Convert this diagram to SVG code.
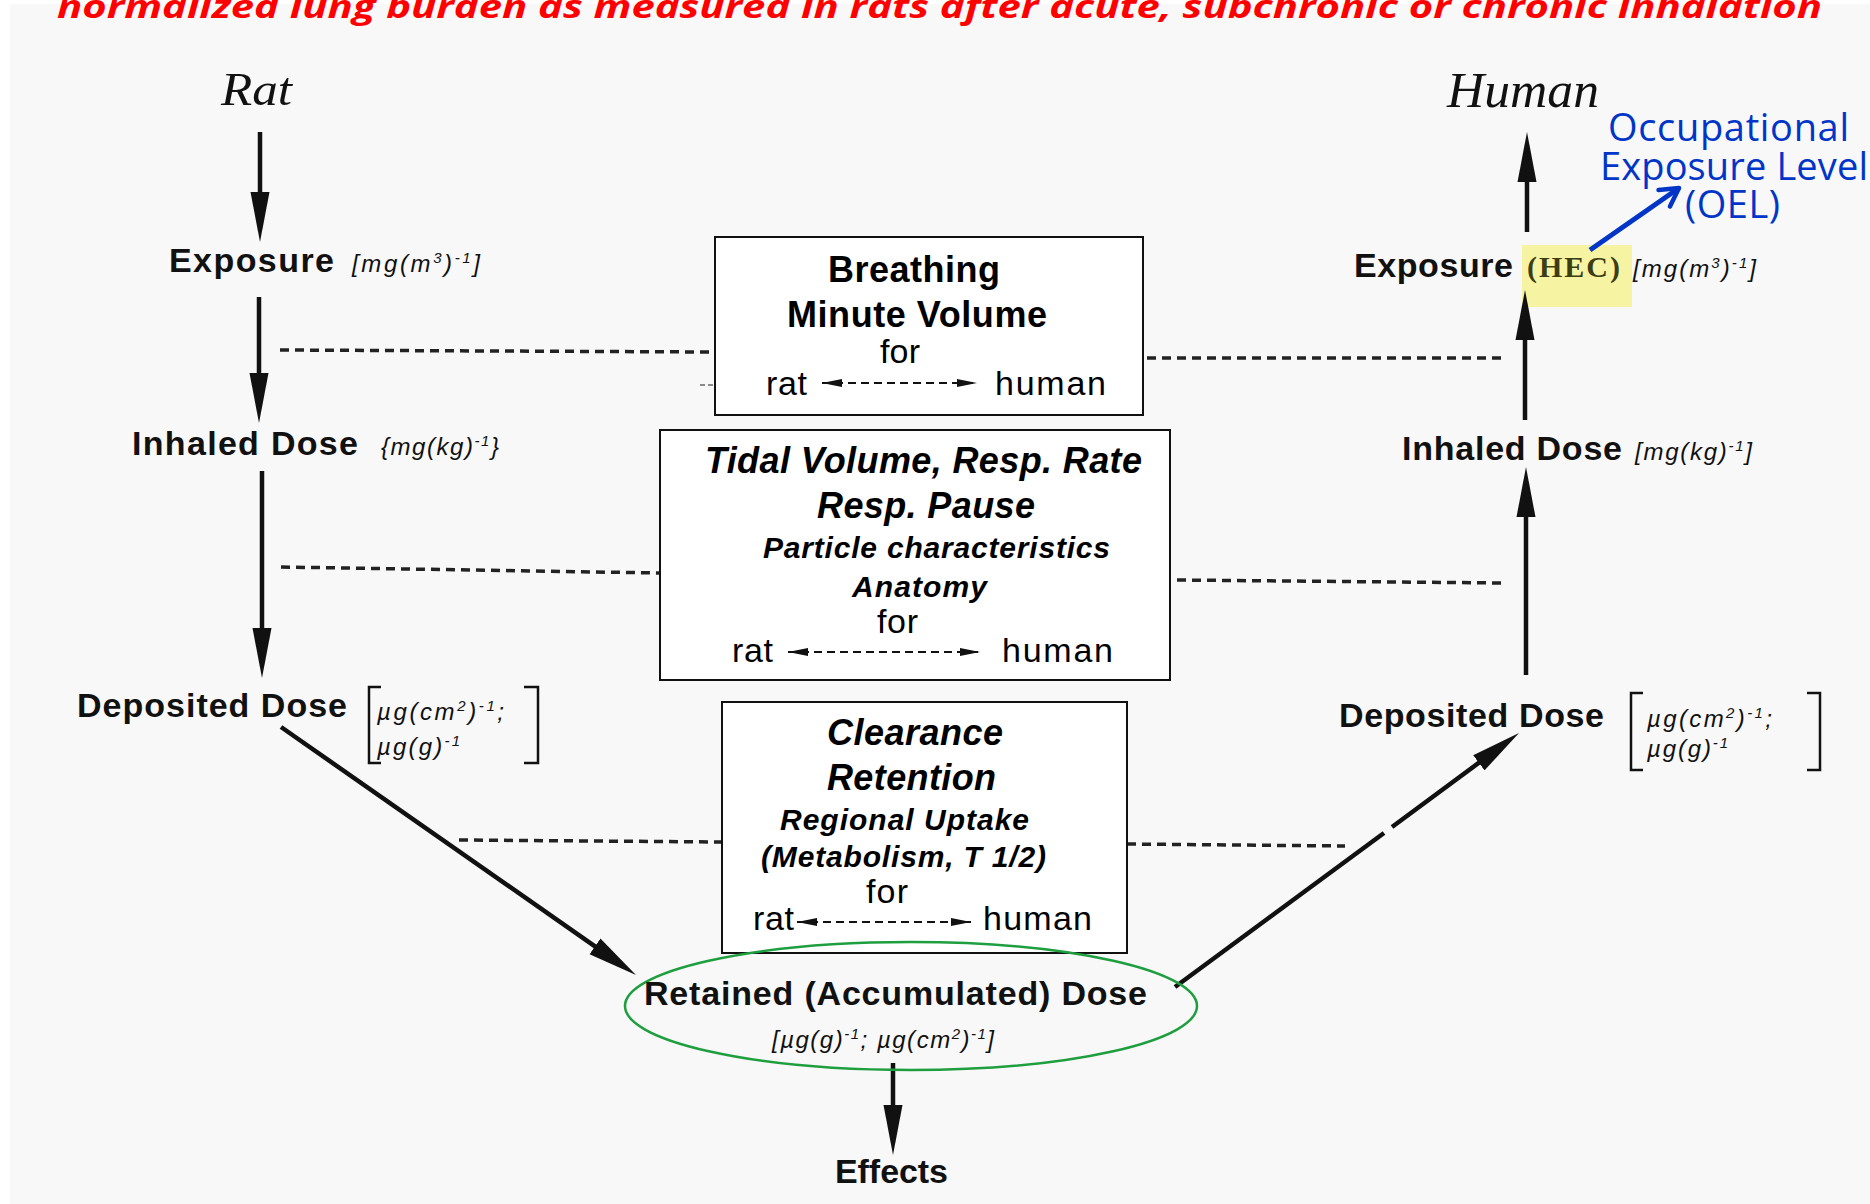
<svg xmlns="http://www.w3.org/2000/svg" width="1870" height="1204" viewBox="0 0 1870 1204">
<style>
.lbl{font-family:"Liberation Sans",Arial,sans-serif;font-weight:bold;font-size:34px;fill:#111}
.unit{font-family:"Liberation Sans",Arial,sans-serif;font-style:italic;font-size:24px;fill:#111}
.sup{font-size:15px}
.bx{fill:#fff;stroke:#111;stroke-width:2}
.bt{font-family:"Liberation Sans",Arial,sans-serif;font-weight:bold;font-size:36px;fill:#000}
.bi{font-family:"Liberation Sans",Arial,sans-serif;font-weight:bold;font-style:italic;font-size:36px;fill:#000}
.bis{font-family:"Liberation Sans",Arial,sans-serif;font-weight:bold;font-style:italic;font-size:30px;fill:#000}
.reg{font-family:"Liberation Sans",Arial,sans-serif;font-size:34px;fill:#000}
.arr{stroke:#111;stroke-width:4.5;fill:none;marker-end:url(#ah)}
.ln{stroke:#111;stroke-width:4.5;fill:none}
.dash{stroke:#222;stroke-width:3.5;stroke-dasharray:9 6;fill:none}
.dbl{stroke:#111;stroke-width:2;stroke-dasharray:8 5;fill:none;marker-start:url(#sh);marker-end:url(#sh)}
.brk{stroke:#111;stroke-width:2.5;fill:none}
.oel{font-family:"Open Sans","Noto Sans",sans-serif;font-size:38px;fill:#0035c8}
.sp{font-family:"Liberation Serif","Times New Roman",serif;font-style:italic;fill:#111}
</style>
<defs>
<marker id="ah" markerUnits="userSpaceOnUse" markerWidth="50" markerHeight="20" viewBox="0 0 50 20" refX="20" refY="10" orient="auto">
<path d="M0,0.5 L50,10 L0,19.5 z" fill="#111"/>
</marker>
<marker id="sh" markerUnits="userSpaceOnUse" markerWidth="20" markerHeight="8" viewBox="0 0 20 8" refX="20" refY="4" orient="auto-start-reverse">
<path d="M0,0 L20,4 L0,8 z" fill="#111"/>
</marker>
<marker id="bh" markerUnits="userSpaceOnUse" markerWidth="26" markerHeight="26" viewBox="0 0 26 26" refX="22" refY="13" orient="auto">
<path d="M4,3 L22,13 L4,23" fill="none" stroke="#0035c8" stroke-width="4.5" stroke-linecap="round" stroke-linejoin="round"/>
</marker>
</defs>

<rect x="0" y="0" width="1870" height="1204" fill="#fff"/>
<rect x="10" y="4" width="1860" height="1200" fill="#f8f8f8"/>

<g id="title">
<text x="57" y="18" font-family="'Open Sans','Noto Sans',sans-serif" font-weight="bold" font-style="italic" font-size="32" fill="#ff0000" textLength="1765" lengthAdjust="spacingAndGlyphs">normalized lung burden as measured in rats after acute, subchronic or chronic inhalation</text>
</g>

<g id="rat-label"><text class="sp" x="221" y="105" font-size="47" textLength="71" lengthAdjust="spacingAndGlyphs">Rat</text></g>
<g id="human-label"><text class="sp" x="1447" y="107" font-size="50" textLength="152" lengthAdjust="spacingAndGlyphs">Human</text></g>

<g id="rat-exposure">
<text class="lbl" x="169" y="272" textLength="165">Exposure</text>
<text class="unit" x="352" y="272" textLength="128">[mg(m<tspan class="sup" dy="-9">3</tspan><tspan dy="9">)</tspan><tspan class="sup" dy="-9">-1</tspan><tspan dy="9">]</tspan></text>
</g>
<g id="rat-inhaled">
<text class="lbl" x="132" y="455" textLength="226">Inhaled Dose</text>
<text class="unit" x="381" y="455" textLength="118">{mg(kg)<tspan class="sup" dy="-9">-1</tspan><tspan dy="9">}</tspan></text>
</g>
<g id="rat-deposited">
<text class="lbl" x="77" y="717" textLength="270">Deposited Dose</text>
<path class="brk" d="M381,687 L369,687 L369,763 L381,763 M524,687 L538,687 L538,763 L524,763"/>
<text class="unit" x="377" y="720" textLength="127">µg(cm<tspan class="sup" dy="-9">2</tspan><tspan dy="9">)</tspan><tspan class="sup" dy="-9">-1</tspan><tspan dy="9">;</tspan></text>
<text class="unit" x="377" y="755" textLength="83">µg(g)<tspan class="sup" dy="-9">-1</tspan></text>
</g>

<g id="human-exposure">
<rect x="1522" y="245" width="110" height="62" fill="#f6f4a3"/>
<text class="lbl" x="1354" y="277" textLength="159">Exposure</text>
<text x="1527" y="277" font-family="'Liberation Serif',serif" font-weight="bold" font-size="30" fill="#3d3d14" textLength="93">(HEC)</text>
<text class="unit" x="1633" y="277" textLength="123">[mg(m<tspan class="sup" dy="-9">3</tspan><tspan dy="9">)</tspan><tspan class="sup" dy="-9">-1</tspan><tspan dy="9">]</tspan></text>
</g>
<g id="oel">
<text class="oel" x="1608" y="141" textLength="241">Occupational</text>
<text class="oel" x="1600" y="180" textLength="268">Exposure Level</text>
<text class="oel" x="1685" y="218" textLength="95">(OEL)</text>
</g>
<g id="human-inhaled">
<text class="lbl" x="1402" y="460" textLength="220">Inhaled Dose</text>
<text class="unit" x="1635" y="460" textLength="117">[mg(kg)<tspan class="sup" dy="-9">-1</tspan><tspan dy="9">]</tspan></text>
</g>
<g id="human-deposited">
<text class="lbl" x="1339" y="727" textLength="265">Deposited Dose</text>
<path class="brk" d="M1643,693 L1631,693 L1631,770 L1643,770 M1807,693 L1820,693 L1820,770 L1807,770"/>
<text class="unit" x="1647" y="727" textLength="125">µg(cm<tspan class="sup" dy="-9">2</tspan><tspan dy="9">)</tspan><tspan class="sup" dy="-9">-1</tspan><tspan dy="9">;</tspan></text>
<text class="unit" x="1647" y="757" textLength="81">µg(g)<tspan class="sup" dy="-9">-1</tspan></text>
</g>

<g id="connectors">
<line class="arr" x1="260" y1="132" x2="260" y2="212"/>
<line class="arr" x1="259" y1="297" x2="259" y2="393"/>
<line class="arr" x1="262" y1="471" x2="262" y2="648"/>
<line class="arr" x1="281" y1="727" x2="611.4" y2="957.8"/>
<line class="arr" x1="1527" y1="232" x2="1527" y2="162"/>
<line class="arr" x1="1525" y1="420" x2="1525" y2="320"/>
<line class="arr" x1="1526" y1="675" x2="1526" y2="497"/>
<line class="ln" x1="1175" y1="987" x2="1384" y2="833"/>
<line class="arr" x1="1392" y1="827" x2="1494.9" y2="750.9"/>
<line class="arr" x1="893" y1="1063" x2="893" y2="1125"/>
<line x1="1590" y1="250" x2="1679" y2="188" stroke="#0035c8" stroke-width="5" marker-end="url(#bh)"/>
<line class="dash" x1="280" y1="350" x2="710" y2="352"/>
<line x1="700" y1="385" x2="714" y2="385" stroke="#666" stroke-width="1.5" stroke-dasharray="5 3"/>
<line class="dash" x1="1147" y1="358" x2="1505" y2="358"/>
<line class="dash" x1="281" y1="567" x2="660" y2="573"/>
<line class="dash" x1="1177" y1="580" x2="1505" y2="583"/>
<line class="dash" x1="459" y1="840" x2="722" y2="842"/>
<line class="dash" x1="1127" y1="844" x2="1345" y2="846"/>
</g>

<g id="box-breathing">
<rect class="bx" x="715" y="237" width="428" height="178"/>
<text class="bt" x="828" y="282" textLength="172">Breathing</text>
<text class="bt" x="787" y="327" textLength="260">Minute Volume</text>
<text class="reg" x="880" y="363" textLength="40">for</text>
<text class="reg" x="766" y="395" textLength="41">rat</text>
<line class="dbl" x1="822" y1="383" x2="977" y2="383"/>
<text class="reg" x="995" y="395" textLength="111">human</text>
</g>

<g id="box-tidal">
<rect class="bx" x="660" y="430" width="510" height="250"/>
<text class="bi" x="705" y="473" textLength="437">Tidal Volume, Resp. Rate</text>
<text class="bi" x="817" y="518" textLength="218">Resp. Pause</text>
<text class="bis" x="763" y="558" textLength="347">Particle characteristics</text>
<text class="bis" x="852" y="597" textLength="135">Anatomy</text>
<text class="reg" x="877" y="633" textLength="41">for</text>
<text class="reg" x="732" y="662" textLength="41">rat</text>
<line class="dbl" x1="788" y1="652" x2="980" y2="652"/>
<text class="reg" x="1002" y="662" textLength="111">human</text>
</g>

<g id="box-clearance">
<rect class="bx" x="722" y="702" width="405" height="251"/>
<text class="bi" x="827" y="745" textLength="176">Clearance</text>
<text class="bi" x="827" y="790" textLength="169">Retention</text>
<text class="bis" x="780" y="830" textLength="249">Regional Uptake</text>
<text class="bis" x="761" y="867" textLength="285">(Metabolism, T 1/2)</text>
<text class="reg" x="866" y="903" textLength="42">for</text>
<text class="reg" x="753" y="930" textLength="41">rat</text>
<line class="dbl" x1="797" y1="922" x2="971" y2="922"/>
<text class="reg" x="983" y="930" textLength="109">human</text>
</g>

<g id="retained">
<ellipse cx="911" cy="1006" rx="286" ry="64" fill="none" stroke="#1e9e3e" stroke-width="2.5"/>
<text class="lbl" x="644" y="1005" textLength="503">Retained (Accumulated)  Dose</text>
<text class="unit" x="772" y="1048" textLength="222">[µg(g)<tspan class="sup" dy="-9">-1</tspan><tspan dy="9">; µg(cm</tspan><tspan class="sup" dy="-9">2</tspan><tspan dy="9">)</tspan><tspan class="sup" dy="-9">-1</tspan><tspan dy="9">]</tspan></text>
</g>

<g id="effects">
<text class="lbl" x="835" y="1183" textLength="113">Effects</text>
</g>
</svg>
